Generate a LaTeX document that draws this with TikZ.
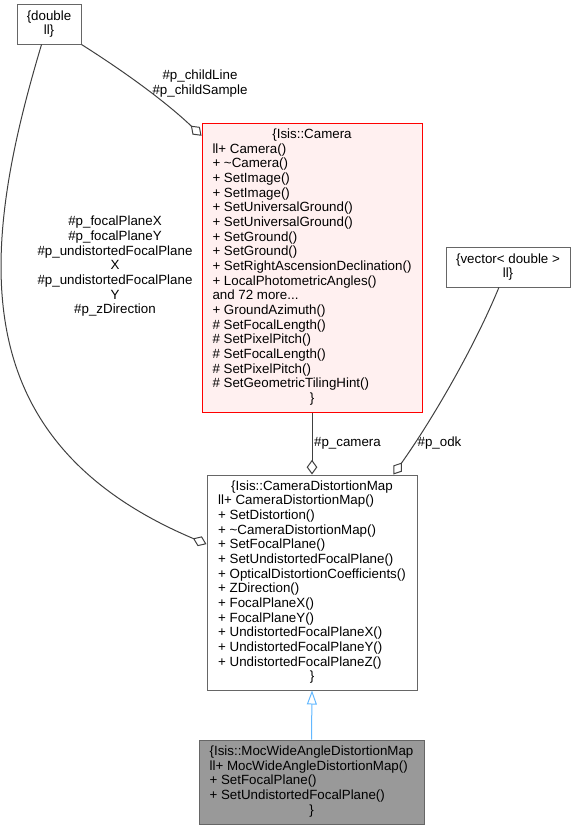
\documentclass[tikz,border=0pt]{standalone}
\usepackage{fontspec}
\setmainfont{Liberation Sans}
\usetikzlibrary{arrows.meta}

\definecolor{edgegrey}{HTML}{404040}
\definecolor{boxgrey}{HTML}{666666}
\definecolor{curfill}{HTML}{999999}
\definecolor{trunfill}{HTML}{FFF0F0}
\definecolor{inhblue}{HTML}{63B8FF}

\newcommand{\clshead}[1]{\multicolumn{1}{@{}c@{}}{#1}}

\begin{document}
\begin{tikzpicture}[x=0.75pt, y=-0.75pt,
    every node/.style={font=\fontsize{10}{11}\selectfont, inner sep=0pt},
    cls/.style={draw=boxgrey, line width=0.75pt, fill=white},
    assoc/.style={draw=edgegrey, line width=0.75pt, -{Diamond[open, length=11pt, width=8pt]}},
    inherit/.style={draw=inhblue, line width=0.75pt, -{Triangle[open, length=10.5pt, width=7.5pt]}}]
    \useasboundingbox (0,0) rectangle (575,829);

    \node[cls, minimum width=48pt, minimum height=30pt, align=center] (dbl) at (49,24) {\{double\\ll\}};
    \node[cls, minimum width=93pt, minimum height=30pt, align=center] (vec) at (508,267) {\{vector< double >\\ll\}};

    \node[cls, draw=red, fill=trunfill, minimum width=165pt, minimum height=216.75pt] (cam) at (312,267.5) {\begin{tabular}{@{}l@{}}
        \clshead{\{Isis::Camera}\\
        ll+ Camera()\\
        + \textasciitilde Camera()\\
        + SetImage()\\
        + SetImage()\\
        + SetUniversalGround()\\
        + SetUniversalGround()\\
        + SetGround()\\
        + SetGround()\\
        + SetRightAscensionDeclination()\\
        + LocalPhotometricAngles()\\
        and 72 more...\\
        + GroundAzimuth()\\
        \# SetFocalLength()\\
        \# SetPixelPitch()\\
        \# SetFocalLength()\\
        \# SetPixelPitch()\\
        \# SetGeometricTilingHint()\\
        \clshead{\}}
    \end{tabular}};

    \node[cls, minimum width=157.5pt, minimum height=161.25pt] (cdm) at (312,582.5) {\begin{tabular}{@{}l@{}}
        \clshead{\{Isis::CameraDistortionMap}\\
        ll+ CameraDistortionMap()\\
        + SetDistortion()\\
        + \textasciitilde CameraDistortionMap()\\
        + SetFocalPlane()\\
        + SetUndistortedFocalPlane()\\
        + OpticalDistortionCoefficients()\\
        + ZDirection()\\
        + FocalPlaneX()\\
        + FocalPlaneY()\\
        + UndistortedFocalPlaneX()\\
        + UndistortedFocalPlaneY()\\
        + UndistortedFocalPlaneZ()\\
        \clshead{\}}
    \end{tabular}};

    \node[cls, fill=curfill, minimum width=168.75pt, minimum height=63pt] (moc) at (311.5,782) {\begin{tabular}{@{}l@{}}
        \clshead{\{Isis::MocWideAngleDistortionMap}\\
        ll+ MocWideAngleDistortionMap()\\
        + SetFocalPlane()\\
        + SetUndistortedFocalPlane()\\
        \clshead{\}}
    \end{tabular}};

    \draw[assoc] (dbl.south east) .. controls (125,72) and (166,102) .. (cam.130);
    \draw[assoc] (dbl.250) .. controls (-20,250) and (-40,440) .. (cdm.160);
    \draw[assoc] (vec.246) .. controls (474,348) and (432,420) .. (cdm.53);
    \draw[assoc] (cam.south) -- (cdm.north);
    \draw[inherit] (moc.north) -- (cdm.south);

    \node[align=center] (lchild) at (200,83.5) {\#p\_childLine\\\#p\_childSample};
    \node[align=center] (lfocal) at (115,266.5) {\#p\_focalPlaneX\\\#p\_focalPlaneY\\\#p\_undistortedFocalPlane\\X\\\#p\_undistortedFocalPlane\\Y\\\#p\_zDirection};
    \node (lcam) at (347.5,443) {\#p\_camera};
    \node (lodk) at (439.5,443) {\#p\_odk};
\end{tikzpicture}
\end{document}
